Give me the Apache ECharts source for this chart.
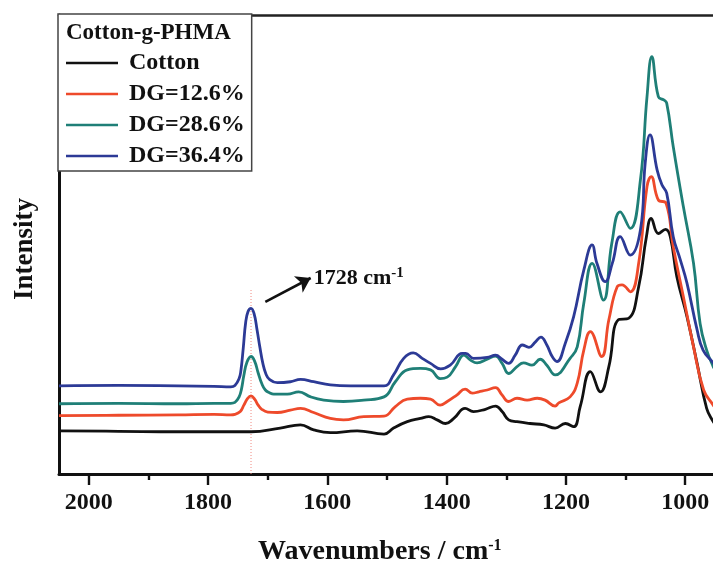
<!DOCTYPE html>
<html>
<head>
<meta charset="utf-8">
<script src="https://cdn.jsdelivr.net/npm/echarts@6/dist/echarts.min.js"></script>
<style>
  html, body { margin: 0; padding: 0; background: #fff; }
  #chart { width: 713px; height: 564px; }
</style>
</head>
<body>
<div id="chart"></div>
<script>
  // spectra: [wavenumber (cm-1), intensity (a.u.)]
  var cotton = [[2050,9.4],[1950,9.3],[1850,9.2],[1762,9.2],[1728,9.2],[1679,10.0],[1645,10.7],[1623,9.6],[1595,9.0],[1550,9.4],[1505,8.7],[1489,10.0],[1466,11.4],[1444,12.1],[1430,12.5],[1416,11.8],[1402,11.0],[1388,12.1],[1369,14.3],[1355,13.6],[1335,14.1],[1318,14.8],[1307,13.6],[1296,11.8],[1282,11.4],[1260,11.0],[1237,10.7],[1218,10.0],[1201,11.0],[1187,10.3],[1176,14.7],[1159,22.3],[1142,17.9],[1128,23.4],[1112,33.6],[1095,33.9],[1078,40.8],[1065,51.7],[1057,55.7],[1045,52.4],[1033,53.3],[1025,51.7],[1014,43.0],[997,34.3],[980,24.1],[964,14.3],[953,11.4],[950,10.9]];
  var dg126 = [[2050,12.7],[1950,12.8],[1850,12.9],[1790,13.0],[1762,12.9],[1755,13.0],[1746,13.6],[1740,15.0],[1734,16.4],[1728,17.0],[1722,16.3],[1716,15.0],[1710,14.1],[1700,13.5],[1684,13.4],[1662,13.9],[1645,14.3],[1623,13.4],[1595,12.1],[1573,11.8],[1539,12.5],[1505,12.6],[1486,14.7],[1466,16.3],[1444,16.5],[1427,16.3],[1411,15.0],[1399,15.8],[1383,17.2],[1369,18.5],[1357,17.6],[1346,17.9],[1332,18.3],[1318,18.8],[1307,17.2],[1296,15.8],[1282,16.5],[1265,16.1],[1248,16.5],[1235,16.1],[1218,14.8],[1212,15.5],[1193,16.8],[1181,19.8],[1170,27.0],[1159,31.0],[1140,25.6],[1128,33.6],[1114,40.8],[1106,41.2],[1092,39.7],[1078,45.9],[1064,62.6],[1057,64.8],[1045,59.7],[1032,59.0],[1020,49.5],[1003,38.6],[986,27.7],[969,18.3],[953,15.0],[950,14.5]];
  var dg286 = [[2050,15.3],[1950,15.4],[1850,15.3],[1790,15.4],[1762,15.4],[1755,15.6],[1748,16.8],[1744,18.5],[1740,21.5],[1735,24.3],[1728,25.6],[1722,24.6],[1716,22.0],[1710,19.7],[1704,18.3],[1697,17.7],[1690,17.4],[1667,17.4],[1648,17.9],[1628,16.8],[1606,16.1],[1573,15.8],[1539,16.1],[1505,16.8],[1486,20.1],[1466,22.7],[1444,23.0],[1427,22.7],[1411,20.8],[1399,21.1],[1385,23.4],[1371,25.9],[1360,24.8],[1349,24.2],[1332,25.0],[1318,25.7],[1307,24.1],[1296,21.9],[1282,23.4],[1271,24.2],[1257,23.7],[1243,25.0],[1232,23.7],[1218,21.6],[1193,25.2],[1181,27.7],[1170,37.2],[1156,45.9],[1137,37.9],[1123,50.3],[1109,57.1],[1092,53.5],[1075,64.1],[1064,82.2],[1056,90.9],[1045,82.2],[1036,81.5],[1031,80.8],[1020,71.3],[1003,58.2],[986,45.9],[975,32.8],[964,27.0],[953,23.4],[950,22.8]];
  var dg364 = [[2050,19.2],[1950,19.3],[1850,19.2],[1790,19.1],[1762,19.0],[1755,19.3],[1748,20.8],[1745,22.5],[1741,27.5],[1737,33.0],[1733,35.4],[1728,36.1],[1723,35.0],[1718,31.5],[1713,27.5],[1708,24.0],[1703,21.8],[1697,20.6],[1684,19.9],[1662,20.1],[1645,20.6],[1623,20.1],[1595,19.4],[1561,19.2],[1505,19.2],[1489,21.6],[1472,25.2],[1456,26.4],[1441,25.2],[1427,24.1],[1410,22.9],[1394,23.7],[1374,26.3],[1368,26.3],[1355,25.2],[1332,25.4],[1318,25.9],[1307,25.0],[1296,24.1],[1285,25.9],[1273,28.1],[1262,27.6],[1251,28.8],[1242,29.8],[1232,28.1],[1223,25.6],[1215,24.5],[1201,28.5],[1187,34.3],[1170,44.4],[1156,49.9],[1148,45.9],[1134,41.9],[1122,46.0],[1109,51.7],[1092,47.7],[1075,53.2],[1067,67.8],[1059,73.9],[1047,66.2],[1039,63.0],[1031,61.2],[1020,51.7],[1008,46.6],[997,41.6],[980,31.4],[970,27.0],[953,24.2],[950,23.7]];

  var seriesNames = ['Cotton', 'DG=12.6%', 'DG=28.6%', 'DG=36.4%'];
  var seriesColors = ['#111111', '#ee4a2b', '#1f7f77', '#2c3a96'];

  var majorTicks = [1000, 1200, 1400, 1600, 1800, 2000];
  var minorTicks = [1100, 1300, 1500, 1700, 1900];

  // 1728 cm-1 guide line and arrow
  var peakLine = [[1728, 0], [1728, 40.5]];
  var arrowFrom = [1704, 37.5];
  var arrowTo = [1628, 42.7];

  var serif = "'Times New Roman', 'Liberation Serif', serif";

  var chart = echarts.init(document.getElementById('chart'));

  var lineSeries = [cotton, dg126, dg286, dg364].map(function (d, i) {
    return {
      name: seriesNames[i],
      type: 'line',
      data: d,
      symbol: 'none',
      smooth: 0.45,
      lineStyle: { width: 2.8, color: seriesColors[i] },
      itemStyle: { color: seriesColors[i] },
      z: 3 + i
    };
  });

  lineSeries.push({
    name: 'peak',
    type: 'line',
    data: peakLine,
    symbol: 'none',
    silent: true,
    lineStyle: { width: 1, color: '#f08a80', type: [1, 2] },
    z: 2,
    markLine: {
      silent: true,
      symbol: ['none', 'arrow'],
      symbolSize: [14, 14],
      label: { show: false },
      lineStyle: { color: '#111', width: 2.6, type: 'solid' },
      data: [[{ coord: arrowFrom }, { coord: arrowTo }]]
    },
    markPoint: {
      symbol: 'circle',
      symbolSize: 0,
      data: [{ coord: arrowTo }],
      label: {
        show: true,
        position: 'right',
        distance: 3,
        formatter: '{t|1728 cm}{s|-1}',
        rich: {
          t: { fontSize: 22, fontWeight: 'bold', fontFamily: serif, color: '#111', lineHeight: 24 },
          s: { fontSize: 15, fontWeight: 'bold', fontFamily: serif, color: '#111', verticalAlign: 'top', lineHeight: 15 }
        }
      }
    }
  });

  chart.setOption({
    animation: false,
    backgroundColor: '#fff',
    title: [{
      text: 'Cotton-g-PHMA',
      left: 66,
      top: 21,
      padding: 0,
      textStyle: { fontSize: 23, fontWeight: 'bold', fontFamily: serif, color: '#111', lineHeight: 24 }
    }, {
      text: 'Wavenumbers / cm{s|-1}',
      left: 258,
      top: 538,
      padding: 0,
      textStyle: {
        fontSize: 28, fontWeight: 'bold', fontFamily: serif, color: '#111', lineHeight: 28,
        rich: { s: { fontSize: 16, fontWeight: 'bold', fontFamily: serif, color: '#111', verticalAlign: 'top', lineHeight: 16 } }
      }
    }],
    legend: {
      data: seriesNames,
      orient: 'vertical',
      left: 58,
      top: 14,
      padding: [37, 7, 3, 8],
      icon: 'rect',
      itemWidth: 52,
      itemHeight: 2.6,
      itemGap: 7,
      backgroundColor: '#fff',
      borderColor: '#444',
      borderWidth: 1.5,
      borderRadius: 0,
      selectedMode: false,
      textStyle: { fontSize: 24, fontWeight: 'bold', fontFamily: serif, color: '#111', lineHeight: 24, padding: [0, 0, 0, 6] }
    },
    grid: { left: 59, right: -2, top: 15, bottom: 90, containLabel: false, outerBoundsMode: 'none' },
    xAxis: [{
      type: 'value',
      inverse: true,
      min: 950,
      max: 2050,
      splitLine: { show: false },
      axisLine: { lineStyle: { color: '#111', width: 3 } },
      axisTick: { length: 11, lineStyle: { color: '#111', width: 2.4 }, customValues: majorTicks },
      axisLabel: {
        customValues: majorTicks,
        formatter: function (v) { return String(v); },
        margin: 17,
        fontSize: 24, fontWeight: 'bold', fontFamily: serif, color: '#111', lineHeight: 24
      }
    }, {
      type: 'value',
      inverse: true,
      min: 950,
      max: 2050,
      position: 'bottom',
      splitLine: { show: false },
      axisLine: { show: false },
      axisTick: { length: 6, lineStyle: { color: '#111', width: 2.4 }, customValues: minorTicks },
      axisLabel: { show: false }
    }, {
      type: 'value',
      inverse: true,
      min: 950,
      max: 2050,
      position: 'top',
      splitLine: { show: false },
      axisLine: { lineStyle: { color: '#222', width: 2.6 } },
      axisTick: { show: false },
      axisLabel: { show: false }
    }],
    yAxis: {
      type: 'value',
      min: 0,
      max: 100,
      name: 'Intensity',
      nameLocation: 'middle',
      nameGap: 20,
      nameTextStyle: { fontSize: 27, fontWeight: 'bold', fontFamily: serif, color: '#111', lineHeight: 27, padding: [0, 9, 0, 0] },
      splitLine: { show: false },
      axisLine: { show: true, lineStyle: { color: '#111', width: 3 } },
      axisTick: { show: false },
      axisLabel: { show: false }
    },
    series: lineSeries
  });
</script>
</body>
</html>
